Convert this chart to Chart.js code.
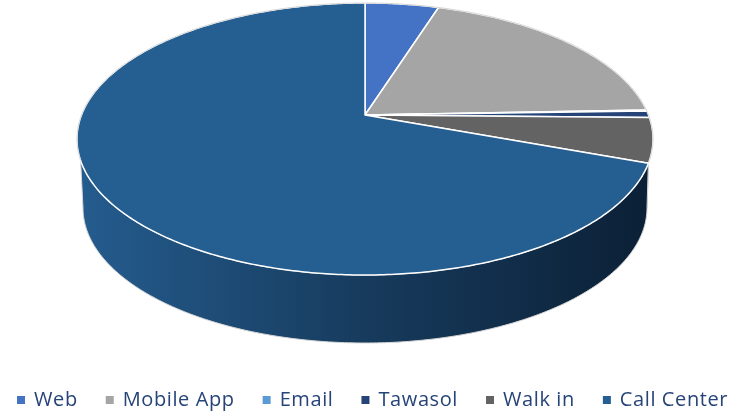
<!DOCTYPE html>
<html>
<head>
<meta charset="utf-8">
<style>
  html, body { margin: 0; padding: 0; background: #fff; overflow: hidden; }
  canvas { display: block; }
</style>
<script src="https://cdn.jsdelivr.net/npm/chart.js@4/dist/chart.umd.min.js"></script>
</head>
<body>
<canvas id="myChart" width="800" height="414"></canvas>
<script>
const categories = ['Web', 'Mobile App', 'Email', 'Tawasol', 'Walk in', 'Call Center'];
const shares = [4.9, 19.5, 0.1, 0.8, 5.3, 69.4];
const colors = ['#4472C4', '#A5A5A5', '#5B9BD5', '#264478', '#636363', '#255E91'];

// perspective of the pie top: unit circle -> screen
const cx = 365, apexY = 115, kY = 111.47, persp = -0.1765, kX = 283.5;
function topPoint(a) {
  const u = Math.cos(a), v = Math.sin(a), w = 1 + persp * v;
  return [cx + kX * u / w, (apexY + kY * v) / w];
}
// the wall runs between these two angles on the top rim
const wallStart = 20 * Math.PI / 180, wallEnd = 161 * Math.PI / 180;
function bottomPoint(a) {
  const t = (a - wallStart) / (wallEnd - wallStart) * Math.PI;
  return [cx + 282 * Math.cos(t), 208 + 135 * Math.sin(t)];
}
function trace(ctx, from, to, fn) {
  const n = Math.max(2, Math.ceil(Math.abs(to - from) * 90));
  for (let i = 0; i <= n; i++) {
    const p = fn(from + (to - from) * i / n);
    ctx.lineTo(p[0], p[1]);
  }
}

const pie3d = {
  id: 'pie3d',
  beforeLayout(chart) {
    chart.ctx.letterSpacing = '0.6px';
  },
  beforeDatasetsDraw(chart) {
    const ctx = chart.ctx;
    const arcs = chart.getDatasetMeta(0).data;
    ctx.save();
    ctx.lineJoin = 'round';

    // side wall
    const grad = ctx.createLinearGradient(80, 0, 650, 0);
    grad.addColorStop(0, '#245C8E');
    grad.addColorStop(0.5, '#173B5D');
    grad.addColorStop(1, '#0B2036');
    arcs.forEach(arc => {
      const a0 = Math.max(arc.startAngle, wallStart), a1 = Math.min(arc.endAngle, wallEnd);
      if (a1 <= a0) return;
      ctx.beginPath();
      trace(ctx, a0, a1, topPoint);
      trace(ctx, a1, a0, bottomPoint);
      ctx.closePath();
      ctx.fillStyle = grad;
      ctx.fill();
      ctx.strokeStyle = '#d4d4d4';
      ctx.lineWidth = 1;
      ctx.stroke();
    });

    // top face
    arcs.forEach((arc, i) => {
      ctx.beginPath();
      ctx.moveTo(cx, apexY);
      trace(ctx, arc.startAngle, arc.endAngle, topPoint);
      ctx.closePath();
      ctx.fillStyle = colors[i];
      ctx.fill();
      ctx.strokeStyle = '#fff';
      ctx.lineWidth = 1.5;
      ctx.stroke();
    });

    // faint edge round the back of the rim
    ctx.beginPath();
    trace(ctx, wallEnd, wallStart + Math.PI * 2, topPoint);
    ctx.strokeStyle = '#d4d4d4';
    ctx.lineWidth = 1;
    ctx.stroke();
    ctx.restore();
    return false;
  }
};

new Chart(document.getElementById('myChart').getContext('2d'), {
  type: 'pie',
  data: {
    labels: categories,
    datasets: [{
      data: shares,
      backgroundColor: colors,
      borderWidth: 0
    }]
  },
  options: {
    responsive: false,
    animation: false,
    // legend sits lower and further left than its own padding would allow
    layout: { padding: { left: -11, bottom: -6 } },
    plugins: {
      tooltip: { enabled: false },
      legend: {
        position: 'bottom',
        align: 'start',
        labels: {
          boxWidth: 6,
          boxHeight: 6,
          padding: 29,
          color: '#264478',
          font: { family: 'Open Sans', size: 20 },
          generateLabels(chart) {
            return Chart.overrides.pie.plugins.legend.labels.generateLabels(chart).map(item => {
              item.strokeStyle = item.fillStyle;
              item.lineWidth = 2;
              return item;
            });
          }
        }
      }
    }
  },
  plugins: [pie3d]
});
</script>
</body>
</html>
